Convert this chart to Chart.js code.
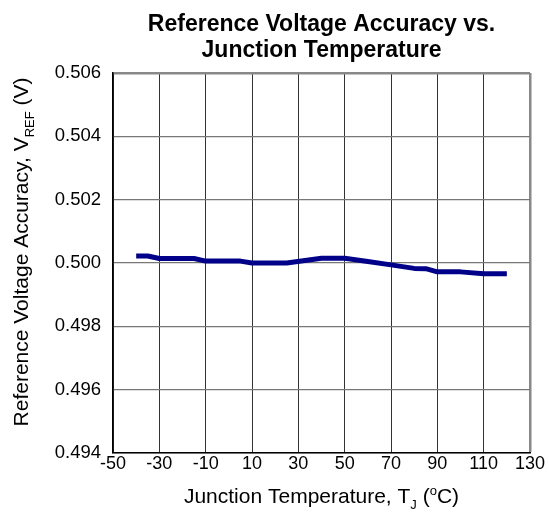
<!DOCTYPE html>
<html>
<head>
<meta charset="utf-8">
<script src="https://cdn.jsdelivr.net/npm/chart.js@4.4.1/dist/chart.umd.min.js"></script>
<style>
  html, body { margin: 0; padding: 0; background: #fff; }
  #wrap { width: 549px; height: 512px; }
</style>
</head>
<body>
<div id="wrap"><canvas id="chart" width="549" height="512"></canvas></div>
<script>
// values
const temps = [-40, -35, -30, -15, -10, 5, 10, 25, 40, 50, 60, 70, 80, 85, 90, 100, 110, 120];
const vref = [0.50022, 0.50022, 0.50014, 0.50014, 0.50006, 0.50006, 0.5, 0.5, 0.50015, 0.50015,
  0.50005, 0.49994, 0.49983, 0.49982, 0.49972, 0.49972, 0.49966, 0.49966];
const xTicks = [-50, -30, -10, 10, 30, 50, 70, 90, 110, 130];
const yTicks = [0.494, 0.496, 0.498, 0.5, 0.502, 0.504, 0.506];
const titleLines = ["Reference Voltage Accuracy vs.", "Junction Temperature"];

const FONT = "Arial, 'Liberation Sans', sans-serif";

// draws a run of [text, kind] pieces centred on 0, kind: n normal, sub, sup
function drawRich(ctx, parts, size) {
  const small = Math.round(size * 0.62);
  let total = 0;
  parts.forEach(([t, k]) => {
    ctx.font = (k === "n" ? size : small) + "px " + FONT;
    total += ctx.measureText(t).width;
  });
  let x = -total / 2;
  parts.forEach(([t, k]) => {
    ctx.font = (k === "n" ? size : small) + "px " + FONT;
    const dy = k === "sub" ? size * 0.3 : k === "sup" ? -size * 0.38 : 0;
    ctx.fillText(t, x, dy);
    x += ctx.measureText(t).width;
  });
}

const labels = {
  id: "labels",
  afterDraw(chart) {
    const { ctx, chartArea } = chart;
    const cx = (chartArea.left + chartArea.right) / 2;
    ctx.save();
    ctx.fillStyle = "#000";
    ctx.textBaseline = "alphabetic";

    // title
    ctx.font = "bold 23px " + FONT;
    ctx.textAlign = "center";
    ctx.fillText(titleLines[0], cx, 31);
    ctx.fillText(titleLines[1], cx, 57);
    ctx.textAlign = "left";

    // x axis title
    ctx.save();
    ctx.translate(cx, 503);
    drawRich(ctx, [["Junction Temperature, T", "n"], ["J", "sub"], [" (", "n"], ["o", "sup"], ["C)", "n"]], 21);
    ctx.restore();

    // y axis title
    ctx.save();
    ctx.translate(28, 252);
    ctx.rotate(-Math.PI / 2);
    drawRich(ctx, [["Reference Voltage Accuracy, V", "n"], ["REF", "sub"], [" (V)", "n"]], 21);
    ctx.restore();

    ctx.restore();
  }
};

new Chart(document.getElementById("chart"), {
  type: "scatter",
  data: {
    datasets: [{
      data: temps.map((t, i) => ({ x: t, y: vref[i] })),
      showLine: true,
      borderColor: "#000088",
      borderWidth: 5,
      pointRadius: 0,
      tension: 0,
      borderCapStyle: "butt",
      borderJoinStyle: "round"
    }]
  },
  options: {
    responsive: false,
    animation: false,
    layout: { padding: { top: 73, right: 19, left: 0, bottom: 0 } },
    plugins: { legend: { display: false }, tooltip: { enabled: false } },
    scales: {
      x: {
        type: "linear",
        min: -50,
        max: 130,
        afterBuildTicks: (s) => { s.ticks = xTicks.map((v) => ({ value: v })); },
        afterFit: (s) => { s.height = 59; },
        ticks: {
          color: "#000",
          font: { family: FONT, size: 18 },
          padding: 0,
          maxRotation: 0,
          autoSkip: false
        },
        grid: {
          drawTicks: false,
          color: (c) => (c.tick && c.tick.value === 130 ? "#888" : "#333"),
          lineWidth: (c) => (c.tick && c.tick.value === 130 ? 2.5 : 1)
        },
        border: { color: "#000", width: 1.5 }
      },
      y: {
        min: 0.494,
        max: 0.506,
        afterBuildTicks: (s) => { s.ticks = yTicks.map((v) => ({ value: v })); },
        afterFit: (s) => { s.width = 113; },
        ticks: {
          color: "#000",
          font: { family: FONT, size: 18.5 },
          padding: 12,
          autoSkip: false,
          callback: (v) => Number(v).toFixed(3)
        },
        grid: {
          drawTicks: false,
          color: (c) => (c.tick && c.tick.value === 0.506 ? "#888" : "#777"),
          lineWidth: (c) => (c.tick && c.tick.value === 0.506 ? 2.5 : 1.2)
        },
        border: { color: "#000", width: 1.5 }
      }
    }
  },
  plugins: [labels]
});
</script>
</body>
</html>
